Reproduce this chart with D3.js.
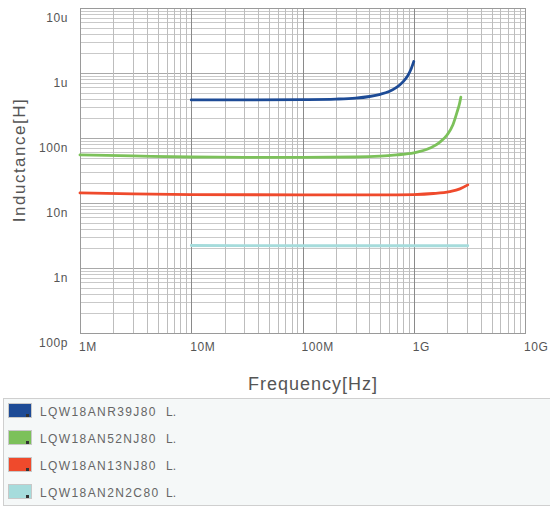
<!DOCTYPE html>
<html>
<head>
<meta charset="utf-8">
<script src="https://cdn.jsdelivr.net/npm/d3@7"></script>
<style>
  body { margin: 0; background: #fff; }
  svg { display: block; font-family: "Liberation Sans", Arial, sans-serif; }
</style>
</head>
<body>
<svg width="550" height="508"></svg>
<script>
// part numbers shown in the legend
const partNames = ['LQW18ANR39J80', 'LQW18AN52NJ80', 'LQW18AN13NJ80', 'LQW18AN2N2C80'];
const partColors = ['#1d4b96', '#7cc15a', '#ef4a2c', '#a6dcdc'];

// frequency [Hz] / inductance [H]
const freqR39 = [1e7, 3e7, 1e8, 2e8, 3e8, 4e8, 5e8, 6e8, 7e8, 8e8, 8.8e8, 9.4e8, 1e9];
const indR39  = [3.85e-7, 3.86e-7, 3.9e-7, 3.97e-7, 4.1e-7, 4.35e-7, 4.7e-7, 5.2e-7, 6.0e-7, 7.3e-7, 9.0e-7, 1.12e-6, 1.5e-6];

const freq52N = [1e6, 3e6, 1e7, 3e7, 1e8, 3e8, 5e8, 7e8, 1e9, 1.4e9, 1.7e9, 2e9, 2.25e9, 2.45e9, 2.58e9, 2.65e9];
const ind52N  = [5.5e-8, 5.3e-8, 5.1e-8, 5.05e-8, 5.05e-8, 5.1e-8, 5.25e-8, 5.5e-8, 5.9e-8, 7.0e-8, 8.5e-8, 1.12e-7, 1.6e-7, 2.5e-7, 3.4e-7, 4.25e-7];

const freq13N = [1e6, 3e6, 1e7, 1e8, 5e8, 1e9, 1.5e9, 2.1e9, 2.6e9, 3.06e9];
const ind13N  = [1.43e-8, 1.38e-8, 1.35e-8, 1.33e-8, 1.33e-8, 1.35e-8, 1.4e-8, 1.5e-8, 1.65e-8, 1.9e-8];

const freq2N2 = [1e7, 1e8, 1e9, 3.06e9];
const ind2N2  = [2.22e-9, 2.2e-9, 2.2e-9, 2.2e-9];

const xTickLabels = ['1M', '10M', '100M', '1G', '10G'];
const yTickLabels = ['100p', '1n', '10n', '100n', '1u', '10u'];

const series = [
  { f: freqR39, l: indR39 },
  { f: freq52N, l: ind52N },
  { f: freq13N, l: ind13N },
  { f: freq2N2, l: ind2N2 }
];

const svg = d3.select('svg');

const x = d3.scaleLog().domain([1e6, 1e10]).range([80, 525]);
const y = d3.scaleLog().domain([1e-10, 1e-5]).range([333, 8]);

const isMajor = (v) => Math.abs(Math.log10(v) - Math.round(Math.log10(v))) < 1e-6;

//grid, minor lines first then decades on top
const grid = svg.append('g').attr('class', 'grid');

grid.selectAll('line.hy')
  .data(y.ticks().sort((a, b) => isMajor(a) - isMajor(b)))
  .enter().append('line')
  .attr('x1', 80).attr('x2', 525)
  .attr('y1', (d) => Math.round(y(d)) + 0.5)
  .attr('y2', (d) => Math.round(y(d)) + 0.5)
  .attr('stroke', (d) => isMajor(d) ? '#a9a9a9' : '#c9c9c9')
  .attr('stroke-width', 1);

grid.selectAll('line.vx')
  .data(x.ticks().sort((a, b) => isMajor(a) - isMajor(b)))
  .enter().append('line')
  .attr('y1', 8).attr('y2', 333)
  .attr('x1', (d) => Math.round(x(d)) + 0.5)
  .attr('x2', (d) => Math.round(x(d)) + 0.5)
  .attr('stroke', (d) => isMajor(d) ? '#8a8a8a' : '#bdbdbd')
  .attr('stroke-width', 1);

svg.append('rect')
  .attr('x', 80.5).attr('y', 8.5)
  .attr('width', 445).attr('height', 325)
  .attr('fill', 'none')
  .attr('stroke', '#9a9a9a');

// tick labels sit to the right of / below their lines
const xDecades = x.ticks().filter(isMajor);
svg.append('g')
  .selectAll('text')
  .data(xDecades)
  .enter().append('text')
  .attr('x', (d) => x(d) - 1)
  .attr('y', 351)
  .attr('font-size', 12)
  .attr('letter-spacing', 0.6)
  .attr('fill', '#555')
  .text((d, i) => xTickLabels[i]);

const yDecades = y.ticks().filter(isMajor);
svg.append('g')
  .selectAll('text')
  .data(yDecades)
  .enter().append('text')
  .attr('x', 68)
  .attr('y', (d) => y(d) + 13.5)
  .attr('text-anchor', 'end')
  .attr('font-size', 12)
  .attr('letter-spacing', 0.6)
  .attr('fill', '#555')
  .text((d, i) => yTickLabels[i]);

svg.append('text')
  .attr('transform', 'translate(25,160) rotate(-90)')
  .attr('text-anchor', 'middle')
  .attr('font-size', 17)
  .attr('letter-spacing', 1.5)
  .attr('fill', '#555')
  .text('Inductance[H]');

svg.append('text')
  .attr('x', 313)
  .attr('y', 390)
  .attr('text-anchor', 'middle')
  .attr('font-size', 18)
  .attr('letter-spacing', 1)
  .attr('fill', '#555')
  .text('Frequency[Hz]');

// curves
const line = d3.line()
  .x((d) => x(d[0]))
  .y((d) => y(d[1]))
  .curve(d3.curveMonotoneX);

svg.append('g')
  .attr('class', 'curves')
  .selectAll('path')
  .data(series)
  .enter().append('path')
  .attr('d', (d) => line(d.f.map((f, i) => [f, d.l[i]])))
  .attr('fill', 'none')
  .attr('stroke', (d, i) => partColors[i])
  .attr('stroke-width', 2.8)
  .attr('stroke-linecap', 'round');

//legend
const legend = svg.append('g').attr('class', 'legend');

legend.append('rect')
  .attr('x', 3.5).attr('y', 398.5)
  .attr('width', 560).attr('height', 107)
  .attr('fill', '#f5f8f8')
  .attr('stroke', '#cfcfcf');

const rows = legend.selectAll('g.row')
  .data(partNames)
  .enter().append('g')
  .attr('class', 'row')
  .attr('transform', (d, i) => `translate(0,${411 + i * 27})`);

rows.append('rect')
  .attr('x', 8.5).attr('y', -7.5)
  .attr('width', 23).attr('height', 14)
  .attr('fill', (d, i) => partColors[i])
  .attr('stroke', '#c8c8c8');

rows.append('rect')
  .attr('x', 26).attr('y', 3)
  .attr('width', 3).attr('height', 3)
  .attr('fill', '#333');

rows.append('text')
  .attr('x', 40)
  .attr('y', 4.5)
  .attr('font-size', 12)
  .attr('letter-spacing', 1.4)
  .attr('fill', '#666')
  .text((d) => d);

rows.append('text')
  .attr('x', 166)
  .attr('y', 4.5)
  .attr('font-size', 12)
  .attr('fill', '#666')
  .text('L.');
</script>
</body>
</html>
